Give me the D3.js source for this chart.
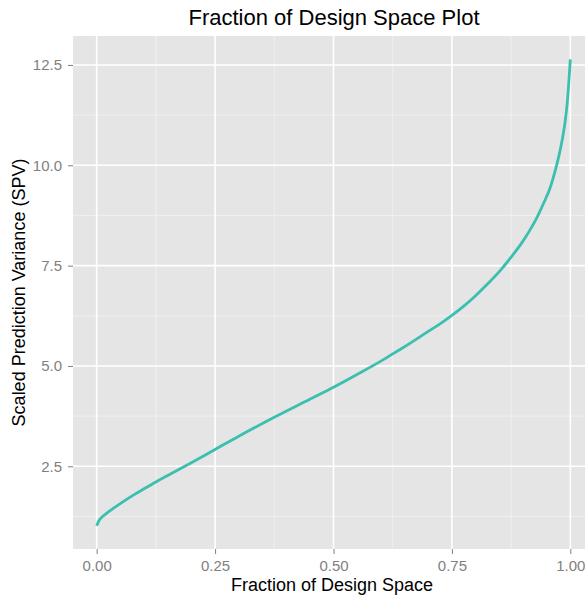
<!DOCTYPE html>
<html>
<head>
<meta charset="utf-8">
<script src="https://cdn.jsdelivr.net/npm/d3@7"></script>
<style>
  body { margin: 0; background: #fff; }
  text { font-family: "Liberation Sans", Arial, sans-serif; }
</style>
</head>
<body>
<div id="chart"></div>
<script>
// fraction of design space vs scaled prediction variance
const fraction = [0.000, 0.005, 0.010, 0.020, 0.035, 0.056, 0.080, 0.100, 0.125, 0.150,
  0.197, 0.250, 0.300, 0.375, 0.450, 0.500, 0.550, 0.600, 0.625, 0.650, 0.700, 0.725,
  0.750, 0.775, 0.800, 0.825, 0.850, 0.875, 0.900, 0.915, 0.930, 0.945, 0.958, 0.968,
  0.976, 0.983, 0.989, 0.994, 0.997, 1.000];
const spv = [1.02, 1.15, 1.22, 1.32, 1.45, 1.62, 1.80, 1.94, 2.11, 2.27,
  2.57, 2.92, 3.25, 3.72, 4.17, 4.47, 4.79, 5.12, 5.30, 5.48, 5.86, 6.05,
  6.26, 6.49, 6.75, 7.04, 7.35, 7.71, 8.11, 8.39, 8.71, 9.09, 9.46, 9.86,
  10.24, 10.64, 11.08, 11.62, 12.10, 12.64];
const xTicks = [0, 0.25, 0.5, 0.75, 1];
const xMinor = [0.125, 0.375, 0.625, 0.875];
const yTicks = [2.5, 5, 7.5, 10, 12.5];
const yMinor = [1.25, 3.75, 6.25, 8.75, 11.25];

const width = 585, height = 596;
const panel = { left: 73, top: 36, right: 594, bottom: 549 };

const svg = d3.select("#chart").append("svg")
  .attr("width", width)
  .attr("height", height);

//scales with ggplot style 5% expansion
const x = d3.scaleLinear().domain([-0.05, 1.05]).range([panel.left, panel.right]);
const yLo = 1.02, yHi = 12.64, pad = (yHi - yLo) * 0.05;
const y = d3.scaleLinear().domain([yLo - pad, yHi + pad]).range([panel.bottom, panel.top]);

//grey panel
svg.append("rect")
  .attr("x", panel.left)
  .attr("y", panel.top)
  .attr("width", panel.right - panel.left)
  .attr("height", panel.bottom - panel.top)
  .attr("fill", "#e5e5e5");

const grid = svg.append("g");
//minor grid
grid.selectAll(".vminor").data(xMinor).enter().append("line")
  .attr("x1", d => x(d)).attr("x2", d => x(d))
  .attr("y1", panel.top).attr("y2", panel.bottom)
  .attr("stroke", "#f2f2f2").attr("stroke-width", 0.8);
grid.selectAll(".hminor").data(yMinor).enter().append("line")
  .attr("y1", d => y(d)).attr("y2", d => y(d))
  .attr("x1", panel.left).attr("x2", panel.right)
  .attr("stroke", "#f2f2f2").attr("stroke-width", 0.8);
//major grid
grid.selectAll(".vmajor").data(xTicks).enter().append("line")
  .attr("x1", d => x(d)).attr("x2", d => x(d))
  .attr("y1", panel.top).attr("y2", panel.bottom)
  .attr("stroke", "#ffffff").attr("stroke-width", 1.6);
grid.selectAll(".hmajor").data(yTicks).enter().append("line")
  .attr("y1", d => y(d)).attr("y2", d => y(d))
  .attr("x1", panel.left).attr("x2", panel.right)
  .attr("stroke", "#ffffff").attr("stroke-width", 1.6);

//the curve
const pts = fraction.map((f, i) => ({ f: f, v: spv[i] }));
const lineFunc = d3.line().x(d => x(d.f)).y(d => y(d.v)).curve(d3.curveMonotoneX);
svg.append("path")
  .attr("d", lineFunc(pts))
  .attr("fill", "none")
  .attr("stroke", "#3bbfae")
  .attr("stroke-width", 2.8);

//x axis
const xAxis = d3.axisBottom(x).tickValues(xTicks).tickFormat(d3.format(".2f"))
  .tickSize(5).tickPadding(6);
const gx = svg.append("g")
  .attr("transform", `translate(0, ${panel.bottom})`)
  .call(xAxis);
gx.select(".domain").remove();
gx.selectAll("line").attr("stroke", "#7f7f7f").attr("stroke-width", 1);
gx.selectAll("text").attr("fill", "#7f7f7f").style("font-size", "15px")
  .style("font-family", "Liberation Sans, Arial, sans-serif");

//y axis
const yAxis = d3.axisLeft(y).tickValues(yTicks).tickFormat(d3.format(".1f"))
  .tickSize(5).tickPadding(6);
const gy = svg.append("g")
  .attr("transform", `translate(${panel.left}, 0)`)
  .call(yAxis);
gy.select(".domain").remove();
gy.selectAll("line").attr("stroke", "#7f7f7f").attr("stroke-width", 1);
gy.selectAll("text").attr("fill", "#7f7f7f").style("font-size", "15px")
  .style("font-family", "Liberation Sans, Arial, sans-serif");

//title and axis labels
svg.append("text")
  .attr("x", 334)
  .attr("y", 25)
  .attr("text-anchor", "middle")
  .style("font-size", "22px")
  .text("Fraction of Design Space Plot");

svg.append("text")
  .attr("x", 332)
  .attr("y", 591)
  .attr("text-anchor", "middle")
  .style("font-size", "18px")
  .text("Fraction of Design Space");

svg.append("text")
  .attr("transform", `translate(25, ${(panel.top + panel.bottom) / 2}) rotate(-90)`)
  .attr("text-anchor", "middle")
  .style("font-size", "18px")
  .text("Scaled Prediction Variance (SPV)");
</script>
</body>
</html>
